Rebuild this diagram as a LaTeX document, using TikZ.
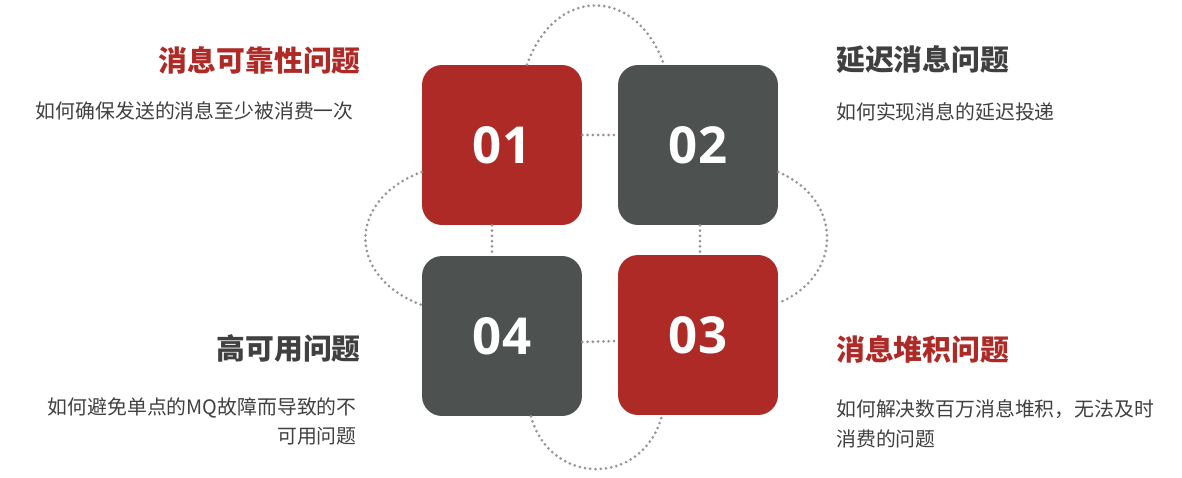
\documentclass[tikz,border=0pt]{standalone}
\usepackage{fontspec}
\setmainfont{Noto Sans CJK SC}
\newfontfamily\numfont{Open Sans}
\definecolor{mqred}{HTML}{AE2A27}
\definecolor{mqgray}{HTML}{4D5251}
\definecolor{mqtext}{HTML}{404040}
\definecolor{mqdot}{HTML}{959595}
\tikzset{
  tile/.style={rounded corners=0.4cm, minimum width=3.2cm, minimum height=3.2cm,
    inner sep=0pt, text=white, font=\numfont\bfseries\fontsize{29}{34}\selectfont},
  ring/.style={color=mqdot, line width=1.7pt, line cap=round, dash pattern=on 0pt off 3pt},
  head/.style={inner sep=0pt, font=\bfseries\fontsize{16.4}{20}\selectfont},
  note/.style={inner sep=0pt, text=mqtext, font=\fontsize{11.3}{17}\selectfont}
}
\begin{document}
\begin{tikzpicture}[x=0.02cm, y=-0.02cm]
   \useasboundingbox (0,0) rectangle (1182,477);
   % tiles
   \node[tile, fill=mqred]  (b1) at (502,145) {01};
   \node[tile, fill=mqgray] (b2) at (698,145) {02};
   \node[tile, fill=mqred]  (b3) at (698,335) {03};
   \node[tile, fill=mqgray] (b4) at (502,336) {04};
   % short links
   \draw[ring] ([yshift=0.2cm]b1.east) -- ([yshift=0.2cm]b2.west);
   \draw[ring] ([yshift=-0.12cm]b4.east) -- ([yshift=-0.12cm]b3.west);
   \draw[ring] ([xshift=-0.2cm]b1.south) -- ([xshift=-0.2cm]b4.north);
   \draw[ring] ([xshift=0.04cm]b2.south) -- ([xshift=0.04cm]b3.north);
   % loops
   \draw[ring] ([xshift=0.5cm]b1.north) .. controls +(0.56cm,1.58cm) and +(-0.56cm,1.58cm) .. ([xshift=-0.68cm]b2.north);
   \draw[ring] ([xshift=0.58cm]b4.south) .. controls +(0.38cm,-1.4cm) and +(-0.38cm,-1.44cm) .. ([xshift=-0.72cm]b3.south);
   \draw[ring] ([yshift=-0.54cm]b1.west) .. controls +(-1.5cm,-0.56cm) and +(-1.5cm,0.56cm) .. ([yshift=0.62cm]b4.west);
   \draw[ring] ([yshift=-0.54cm]b2.east) .. controls +(1.3cm,-0.56cm) and +(1.3cm,0.54cm) .. ([yshift=0.64cm]b3.east);
   % texts
   \node[head, text=mqred, anchor=east] (t1) at (361,60) {消息可靠性问题};
   \node[note, anchor=east] (n1) at (354,111) {如何确保发送的消息至少被消费一次};
   \node[head, text=mqtext, anchor=west] (t2) at (836,60) {延迟消息问题};
   \node[note, anchor=west] (n2) at (836,112) {如何实现消息的延迟投递};
   \node[head, text=mqred, anchor=west] (t3) at (836,349) {消息堆积问题};
   \node[note, anchor=north west, align=left] (n3) at (836,399) {如何解决数百万消息堆积，无法及时\\消费的问题};
   \node[head, text=mqtext, anchor=east] (t4) at (361,349) {高可用问题};
   \node[note, anchor=north east, align=right] (n4) at (357,397) {如何避免单点的MQ故障而导致的不\\可用问题};
\end{tikzpicture}
\end{document}
